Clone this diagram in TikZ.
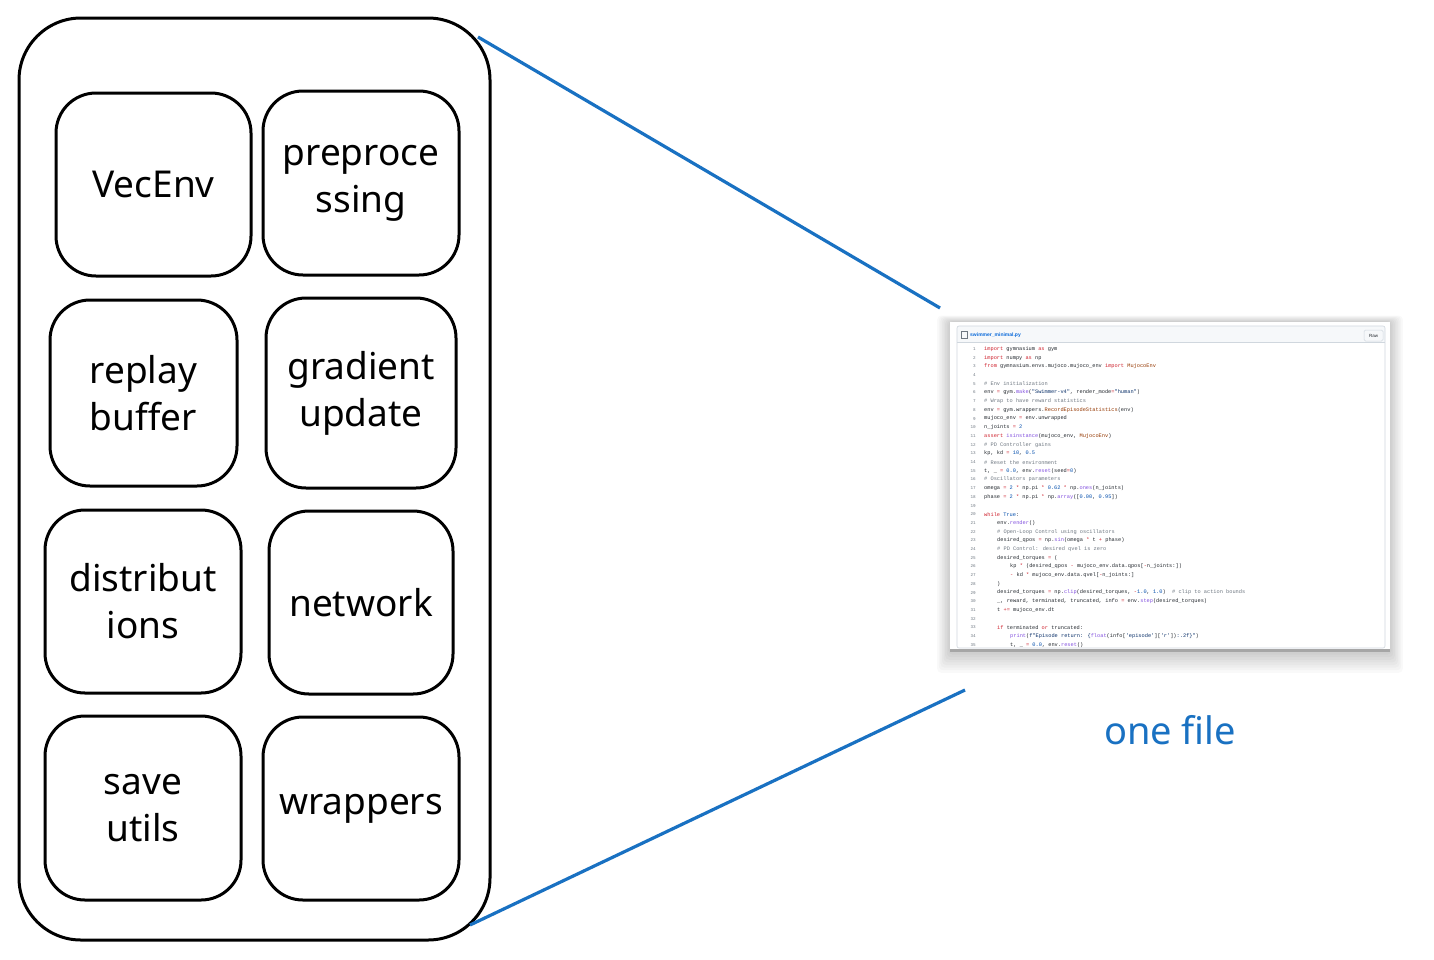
\documentclass[tikz,border=0pt]{standalone}
\usepackage{fontspec}
\setmainfont{Noto Sans}
\newfontfamily\codefont{Liberation Mono}
\newfontfamily\uifont{Liberation Sans}
\definecolor{xblue}{HTML}{1971C2}
\definecolor{ckw}{HTML}{CF222E}
\definecolor{cfn}{HTML}{8250DF}
\definecolor{cnum}{HTML}{0550AE}
\definecolor{cstr}{HTML}{0A3069}
\definecolor{ccom}{HTML}{6E7781}
\definecolor{ccls}{HTML}{953800}
\definecolor{ctext}{HTML}{24292F}
\definecolor{ghborder}{HTML}{D0D7DE}
\definecolor{ghhead}{HTML}{F6F8FA}
\definecolor{ghlink}{HTML}{0969DA}
\newcommand\hlkw[1]{\textcolor{ckw}{#1}}
\newcommand\hlfn[1]{\textcolor{cfn}{#1}}
\newcommand\hlnum[1]{\textcolor{cnum}{#1}}
\newcommand\hlstr[1]{\textcolor{cstr}{#1}}
\newcommand\hlcom[1]{\textcolor{ccom}{#1}}
\newcommand\hlcls[1]{\textcolor{ccls}{#1}}
\newcommand\codeline[3]{%
  \node[lnum] (ln#1) at (976,{349+(#1-1)*8.7}) {#1};
  \node[codetxt] (cl#1) at ({984+13*#2},{349+(#1-1)*8.7}) {#3};}
\begin{document}
\begin{tikzpicture}[x=1pt,y=-1pt,
  modbox/.style={draw=black,line width=3pt,rounded corners=40pt,align=center,
    font=\fontsize{37}{47}\selectfont,inner sep=0pt},
  outerbox/.style={draw=black,line width=3pt,rounded corners=62pt,inner sep=0pt},
  link/.style={draw=xblue,line width=3.2pt},
  lnum/.style={anchor=east,inner sep=0pt,font=\codefont\fontsize{4.3}{5}\selectfont,text=ccom},
  codetxt/.style={anchor=west,inner sep=0pt,font=\codefont\fontsize{5.3}{6}\selectfont,text=ctext},
]
\useasboundingbox (0,0) rectangle (1434,959);
\fill[white] (0,0) rectangle (1434,959);

% outer container
\node[outerbox,minimum width=471pt,minimum height=922pt] (outer) at (254.5,479) {};

% modules
\node[modbox,minimum width=195pt,minimum height=183pt] (vecenv) at (153.5,184.5) {VecEnv};
\node[modbox,minimum width=196pt,minimum height=184pt] (prep) at (361,183) {preproce\\ssing};
\node[modbox,minimum width=187pt,minimum height=186pt] (replay) at (143.5,393) {replay\\buffer};
\node[modbox,minimum width=190pt,minimum height=190pt] (grad) at (361,393) {gradient\\update};
\node[modbox,minimum width=196pt,minimum height=183pt] (dist) at (143,601.5) {distribut\\ions};
\node[modbox,minimum width=184pt,minimum height=183pt] (net) at (361,602.5) {network};
\node[modbox,minimum width=196pt,minimum height=184pt] (save) at (143,808) {save\\utils};
\node[modbox,minimum width=196pt,minimum height=183pt] (wrap) at (361,808.5) {wrappers};

% connectors
\coordinate (t1) at (478,37);
\coordinate (t2) at (940,308);
\coordinate (b1) at (470,925);
\coordinate (b2) at (965,690);
\draw[link] (t1) -- (t2);
\draw[link] (b1) -- (b2);

% panel shadow
\foreach \k in {1,...,8}{
  \fill[black,opacity=0.022,rounded corners=4pt] (950-\k*1.6,322-\k*0.8) rectangle (1390+\k*1.6,652+\k*2.6);
}
% panel
\node[fill=white,minimum width=440pt,minimum height=330pt,inner sep=0pt] (panel) at (1170,487) {};
\fill[ghhead] (957,326) rectangle (1385,342);
\draw[ghborder,line width=0.6pt,rounded corners=2pt] (957,326) rectangle (1385,648);
\draw[ghborder,line width=0.6pt] (957,342) -- (1385,342);
\fill[black!35] (950,648.5) rectangle (1390,652);
\node[draw=ccom,line width=0.4pt,minimum width=6pt,minimum height=7pt,inner sep=0pt] (ficon) at (964.5,335) {};
\node[anchor=west,inner sep=0pt,text=ghlink,font=\uifont\bfseries\fontsize{5}{6}\selectfont] (fname) at (970,335) {swimmer\_minimal.py};
\node[draw=ghborder,fill=ghhead,rounded corners=1.5pt,line width=0.5pt,minimum width=19pt,minimum height=11pt,inner sep=0pt,
  font=\uifont\fontsize{4.5}{5}\selectfont,text=ctext] (raw) at (1373.5,335.5) {Raw};

% code
\codeline{1}{0}{\hlkw{import} gymnasium \hlkw{as} gym}
\codeline{2}{0}{\hlkw{import} numpy \hlkw{as} np}
\codeline{3}{0}{\hlkw{from} gymnasium.envs.mujoco.mujoco\_env \hlkw{import} \hlcls{MujocoEnv}}
\codeline{4}{0}{}
\codeline{5}{0}{\hlcom{\# Env initialization}}
\codeline{6}{0}{env \hlkw{=} gym.\hlfn{make}(\hlstr{"Swimmer-v4"}, render\_mode\hlkw{=}\hlstr{"human"})}
\codeline{7}{0}{\hlcom{\# Wrap to have reward statistics}}
\codeline{8}{0}{env \hlkw{=} gym.wrappers.\hlcls{RecordEpisodeStatistics}(env)}
\codeline{9}{0}{mujoco\_env \hlkw{=} env.unwrapped}
\codeline{10}{0}{n\_joints \hlkw{=} \hlnum{2}}
\codeline{11}{0}{\hlkw{assert} \hlfn{isinstance}(mujoco\_env, \hlcls{MujocoEnv})}
\codeline{12}{0}{\hlcom{\# PD Controller gains}}
\codeline{13}{0}{kp, kd \hlkw{=} \hlnum{10}, \hlnum{0.5}}
\codeline{14}{0}{\hlcom{\# Reset the environment}}
\codeline{15}{0}{t, \_ \hlkw{=} \hlnum{0.0}, env.\hlfn{reset}(seed\hlkw{=}\hlnum{0})}
\codeline{16}{0}{\hlcom{\# Oscillators parameters}}
\codeline{17}{0}{omega \hlkw{=} \hlnum{2} \hlkw{*} np.pi \hlkw{*} \hlnum{0.62} \hlkw{*} np.\hlfn{ones}(n\_joints)}
\codeline{18}{0}{phase \hlkw{=} \hlnum{2} \hlkw{*} np.pi \hlkw{*} np.\hlfn{array}([\hlnum{0.00}, \hlnum{0.95}])}
\codeline{19}{0}{}
\codeline{20}{0}{\hlkw{while} \hlnum{True}:}
\codeline{21}{1}{env.\hlfn{render}()}
\codeline{22}{1}{\hlcom{\# Open-Loop Control using oscillators}}
\codeline{23}{1}{desired\_qpos \hlkw{=} np.\hlfn{sin}(omega \hlkw{*} t \hlkw{+} phase)}
\codeline{24}{1}{\hlcom{\# PD Control: desired qvel is zero}}
\codeline{25}{1}{desired\_torques \hlkw{=} (}
\codeline{26}{2}{kp \hlkw{*} (desired\_qpos \hlkw{-} mujoco\_env.data.qpos[\hlkw{-}n\_joints:])}
\codeline{27}{2}{\hlkw{-} kd \hlkw{*} mujoco\_env.data.qvel[\hlkw{-}n\_joints:]}
\codeline{28}{1}{)}
\codeline{29}{1}{desired\_torques \hlkw{=} np.\hlfn{clip}(desired\_torques, \hlkw{-}\hlnum{1.0}, \hlnum{1.0})\ \ \hlcom{\# clip to action bounds}}
\codeline{30}{1}{\_, reward, terminated, truncated, info \hlkw{=} env.\hlfn{step}(desired\_torques)}
\codeline{31}{1}{t \hlkw{+=} mujoco\_env.dt}
\codeline{32}{0}{}
\codeline{33}{1}{\hlkw{if} terminated \hlkw{or} truncated:}
\codeline{34}{2}{\hlfn{print}(\hlstr{f"Episode return: \{}\hlfn{float}(info[\hlstr{'episode'}][\hlstr{'r'}])\hlstr{:.2f\}"})}
\codeline{35}{2}{t, \_ \hlkw{=} \hlnum{0.0}, env.\hlfn{reset}()}

% caption
\node[text=xblue,font=\fontsize{38}{46}\selectfont,inner sep=0pt] (cap) at (1170,730) {one file};
\end{tikzpicture}
\end{document}
